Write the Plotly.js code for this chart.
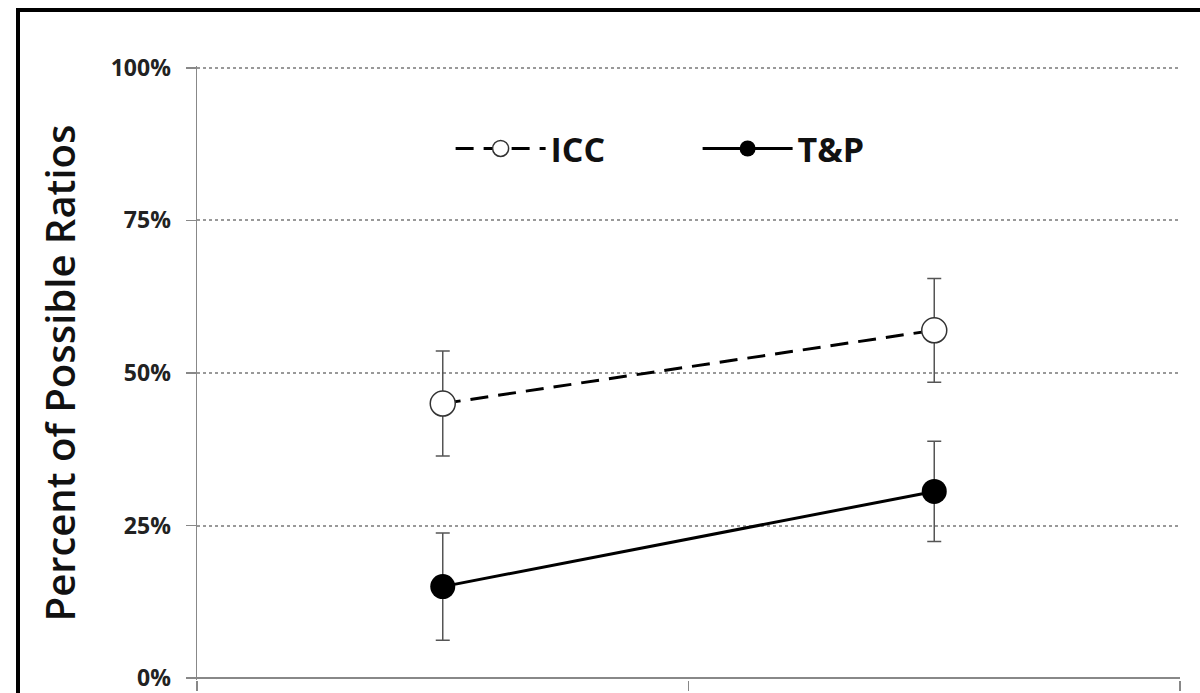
<!DOCTYPE html>
<html>
<head>
<meta charset="utf-8">
<script src="https://cdn.plot.ly/plotly-3.0.1.min.js"></script>
<style>
  html, body { margin: 0; padding: 0; background: #fff; overflow: hidden; }
  #chart { width: 1200px; height: 693px; position: absolute; left: 0; top: 0; }
  #frame { position: absolute; left: 16px; top: 8px; width: 1300px; height: 800px;
           border-top: 4px solid #000; border-left: 4px solid #000; pointer-events: none; }
</style>
</head>
<body>
<div id="chart"></div>
<div id="frame"></div>
<script>
const categories = ["Condition 1", "Condition 2"];
const iccValues = [45, 57];
const iccErrors = [8.6, 8.5];
const tpValues = [15, 30.6];
const tpErrors = [8.8, 8.2];
const yTickVals = [0, 25, 50, 75, 100];
const yTickText = ["0%", "25%", "50%", "75%", "100%"];

const traces = [
  {
    x: categories, y: iccValues, name: "ICC", type: "scatter", mode: "lines+markers",
    line: { color: "#000", width: 3, dash: "18px,10px" },
    marker: { symbol: "circle", size: 25, color: "#fff", line: { color: "#333", width: 1.5 } },
    error_y: { type: "data", array: iccErrors, visible: true, color: "#555", thickness: 1.5, width: 7 }
  },
  {
    x: categories, y: tpValues, name: "T&P", type: "scatter", mode: "lines+markers",
    line: { color: "#000", width: 3 },
    marker: { symbol: "circle", size: 25, color: "#000" },
    error_y: { type: "data", array: tpErrors, visible: true, color: "#555", thickness: 1.5, width: 7 }
  }
];

const layout = {
  width: 1200, height: 693,
  margin: { l: 197, r: 20, t: 66, b: 13 },
  paper_bgcolor: "#fff", plot_bgcolor: "#fff",
  showlegend: true,
  legend: {
    orientation: "h", x: 0.258, y: 0.865, xanchor: "left", yanchor: "middle",
    font: { family: "Open Sans, sans-serif", size: 34, color: "#111", weight: "bold" },
    itemwidth: 90, entrywidth: 142, entrywidthmode: "pixels",
    tracegroupgap: 0, bgcolor: "rgba(0,0,0,0)"
  },
  xaxis: {
    type: "category", range: [-0.5, 1.5],
    showticklabels: false, ticks: "outside", tickson: "boundaries", ticklen: 10,
    tickcolor: "#888", tickwidth: 1.5,
    showline: false, showgrid: false, zeroline: false, fixedrange: true
  },
  yaxis: {
    range: [-0.3, 100.3], tickvals: yTickVals, ticktext: yTickText,
    ticks: "outside", ticklen: 10, tickcolor: "#888", tickwidth: 1.5, ticklabelstandoff: 10,
    ticklabeloverflow: "allow",
    tickfont: { family: "Open Sans, sans-serif", size: 23, color: "#222", weight: "bold" },
    showline: true, linecolor: "#888", linewidth: 1.5,
    showgrid: true, gridcolor: "#999", gridwidth: 2, griddash: "dot",
    zeroline: true, zerolinecolor: "#888", zerolinewidth: 2,
    title: { text: "Percent of Possible Ratios", standoff: 22,
             font: { family: "Open Sans, sans-serif", size: 40, color: "#111", weight: 600 } },
    fixedrange: true
  }
};

Plotly.newPlot("chart", traces, layout, { displayModeBar: false, staticPlot: true });
</script>
</body>
</html>
